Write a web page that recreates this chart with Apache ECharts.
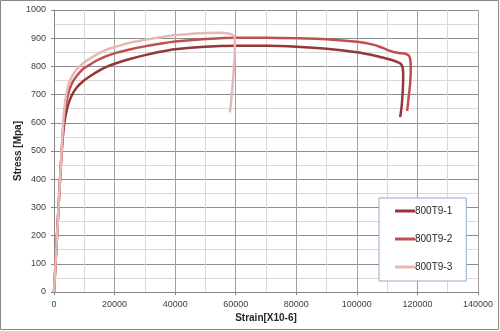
<!DOCTYPE html>
<html>
<head>
<meta charset="utf-8">
<script src="https://cdn.jsdelivr.net/npm/echarts@6/dist/echarts.min.js"></script>
<style>
  html, body { margin: 0; padding: 0; background: #fff; }
  #chart { width: 500px; height: 331px; }
</style>
</head>
<body>
<div id="chart"></div>
<script>
// strain [x10-6], stress [MPa]
const seriesNames = ["800T9-1", "800T9-2", "800T9-3"];
const seriesColors = ["#953735", "#c0504d", "#e6b9b8"];

const test1 = [
  [0, 0], [1000, 200], [2000, 400], [2700, 520], [3200, 580], [3700, 618],
  [4300, 648], [5000, 675], [6000, 700], [7500, 725], [9700, 748],
  [12000, 766], [14900, 785], [17500, 799], [20500, 811], [25000, 826],
  [30000, 840], [35000, 852], [40000, 861], [50000, 870], [60000, 873],
  [70000, 873], [80000, 870], [90000, 863], [100000, 850], [106000, 838],
  [110000, 827], [113000, 817], [114600, 808], [115200, 790], [115300, 760],
  [115100, 703], [114800, 660], [114300, 620]
];
const test2 = [
  [0, 0], [1000, 200], [2000, 400], [2700, 530], [3200, 605], [3700, 648],
  [4600, 700], [5800, 737], [7400, 765], [9500, 790], [11800, 806],
  [15000, 826], [19900, 846], [25000, 860], [30000, 871], [35000, 880],
  [40000, 888], [50000, 897], [60000, 902], [70000, 902], [80000, 900],
  [90000, 896], [100000, 887], [105000, 878], [108000, 868], [110500, 857],
  [112500, 850], [114500, 847], [116000, 845], [117200, 838], [117700, 820],
  [117800, 790], [117600, 740], [117100, 690], [116600, 642]
];
const test3 = [
  [0, 0], [1000, 200], [2000, 400], [2700, 540], [3200, 625], [3600, 668],
  [4100, 702], [4800, 735], [5700, 760], [7500, 790], [10100, 815],
  [12500, 832], [15100, 848], [17500, 860], [20500, 870], [25000, 884],
  [30000, 894], [35000, 903], [40000, 911], [45000, 915], [50000, 918],
  [55000, 919], [57500, 917], [59000, 912], [59700, 898], [59700, 860],
  [59300, 780], [58700, 700], [58100, 637]
];
const allData = [test1, test2, test3];

const chart = echarts.init(document.getElementById("chart"));
const labelFont = { color: "#404040", fontFamily: "Liberation Sans", fontSize: 9 };
const plain = (v) => String(v);

chart.setOption({
  animation: false,
  graphic: [{
    type: "rect",
    shape: { x: 0.5, y: 0.5, width: 498, height: 329 },
    style: { fill: "none", stroke: "#888", lineWidth: 1 },
    silent: true
  }],
  grid: { left: 54, right: 22, top: 10, bottom: 39, outerBoundsMode: "none" },
  xAxis: {
    type: "value",
    min: 0, max: 140000, interval: 20000,
    name: "Strain[X10-6]",
    nameLocation: "middle",
    nameGap: 21,
    nameMoveOverlap: false,
    nameTextStyle: { color: "#262626", fontFamily: "Liberation Sans", fontSize: 10, fontWeight: "bold" },
    axisLine: { lineStyle: { color: "#868686" } },
    axisTick: { show: true, length: 3, lineStyle: { color: "#868686" } },
    axisLabel: Object.assign({ margin: 8, formatter: plain }, labelFont),
    splitLine: { lineStyle: { color: "#a0a0a0" } },
    minorTick: { show: false, splitNumber: 2 },
    minorSplitLine: { show: true, lineStyle: { color: "#d9d9d9" } }
  },
  yAxis: {
    type: "value",
    min: 0, max: 1000, interval: 100,
    name: "Stress [Mpa]",
    nameLocation: "middle",
    nameGap: 31,
    nameMoveOverlap: false,
    nameTextStyle: { color: "#262626", fontFamily: "Liberation Sans", fontSize: 10, fontWeight: "bold" },
    axisLine: { show: true, lineStyle: { color: "#868686" } },
    axisTick: { show: true, length: 3, lineStyle: { color: "#868686" } },
    axisLabel: Object.assign({ margin: 8, formatter: plain }, labelFont),
    splitLine: { lineStyle: { color: "#8c8c8c" } },
    minorTick: { show: false, splitNumber: 2 },
    minorSplitLine: { show: true, lineStyle: { color: "#d9d9d9" } }
  },
  legend: {
    orient: "vertical",
    left: 379,
    top: 198,
    padding: [8, 14, 9, 16],
    itemGap: 18,
    itemWidth: 20,
    itemHeight: 3,
    icon: "rect",
    borderColor: "#8eaacb",
    borderWidth: 1,
    backgroundColor: "#fff",
    textStyle: { color: "#262626", fontFamily: "Liberation Sans", fontSize: 10, padding: [0, 0, 0, -5] },
    data: seriesNames
  },
  series: seriesNames.map((name, i) => ({
    name: name,
    type: "line",
    data: allData[i],
    smooth: 0.3,
    showSymbol: false,
    symbol: "none",
    lineStyle: { color: seriesColors[i], width: 2.5 },
    itemStyle: { color: seriesColors[i] }
  }))
});
</script>
</body>
</html>
